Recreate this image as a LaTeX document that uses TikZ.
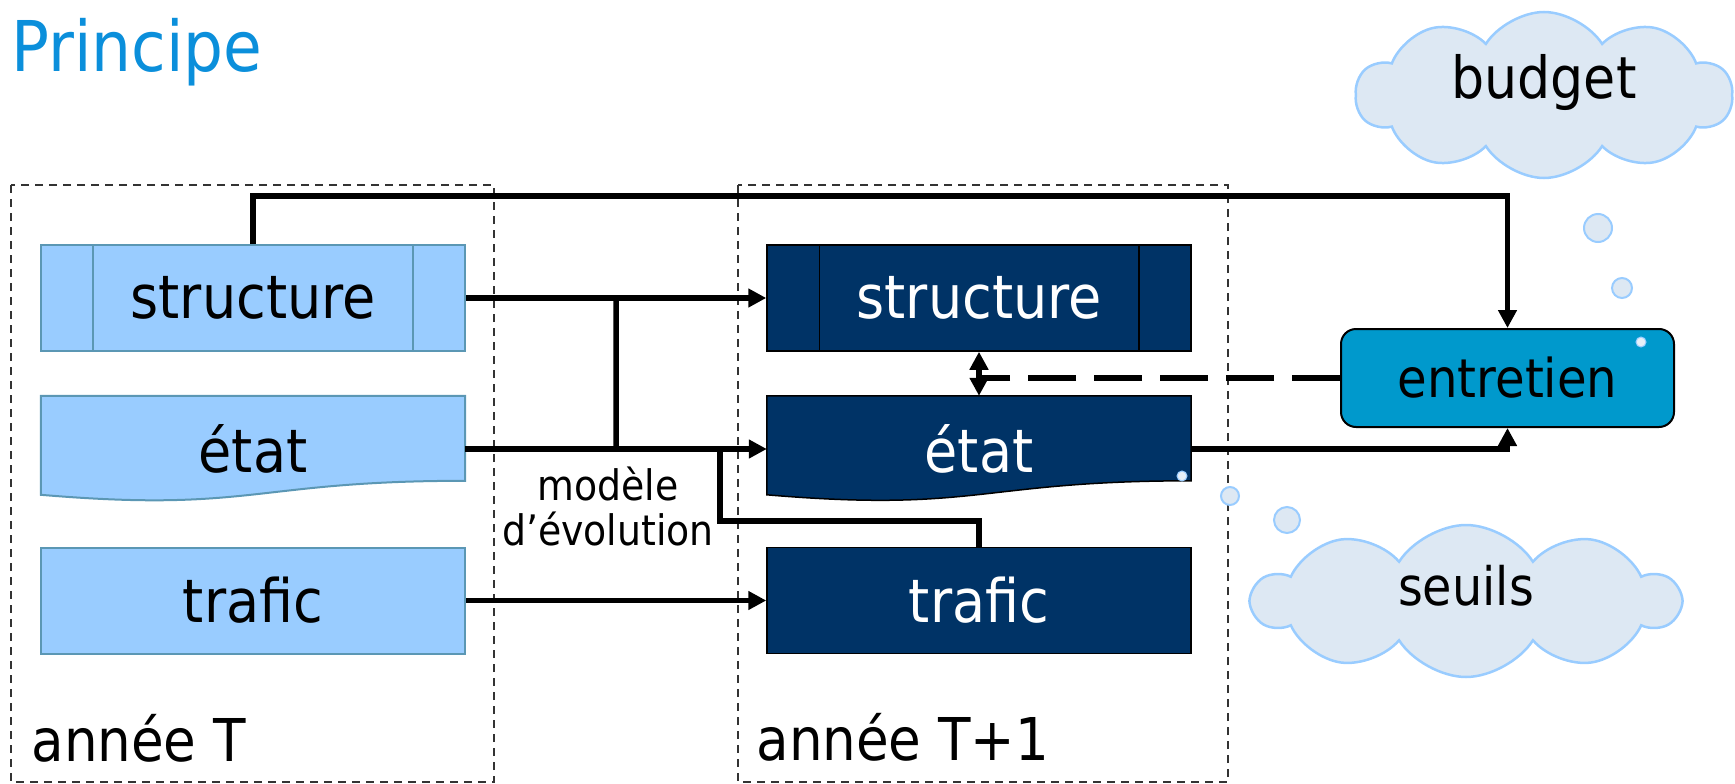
\documentclass[tikz,border=0pt]{standalone}
\usepackage{fontspec}
\setmainfont{DejaVu Sans Condensed}
\usepackage{tikz}
\usetikzlibrary{arrows.meta,calc,shapes.symbols,backgrounds}

\definecolor{clair}{HTML}{99CCFF}
\definecolor{bordclair}{HTML}{5B97B4}
\definecolor{marine}{HTML}{003366}
\definecolor{turquoise}{HTML}{0099CC}
\definecolor{nuagefond}{HTML}{DDE8F3}
\definecolor{nuagebord}{HTML}{99CCFF}
\definecolor{titre}{HTML}{0B8FDB}

\tikzset{
  boite/.style={minimum width=424pt, minimum height=106pt, inner sep=0pt, font=\fontsize{60}{72}\selectfont},
  boiteT/.style={boite, draw=bordclair, line width=2pt, fill=clair},
  boiteTT/.style={boite, draw=black, line width=1.5pt, fill=marine, text=white},
  cadre/.style={draw=black!80, line width=2pt, dash pattern=on 8pt off 6pt},
  trait/.style={line width=5.5pt},
  fleche/.style={trait, -{Triangle[length=18pt,width=18pt]}},
  nuage/.style={cloud, cloud puffs=10, cloud puff arc=115, cloud ignores aspect, draw=nuagebord, fill=nuagefond, line width=2.5pt, inner sep=0pt, text height=42pt, text depth=34pt},
  bulle/.style={circle, draw=nuagebord, fill=nuagefond, line width=2pt, inner sep=0pt},
  point/.style={circle, draw=nuagebord, fill=nuagefond!70!white, line width=1pt, inner sep=0pt, minimum size=10pt}
}

\begin{document}
\begin{tikzpicture}[x=1pt,y=1pt,yscale=-1]

\useasboundingbox (0,0) rectangle (1735,784);

\node[anchor=base west, text=titre, font=\fontsize{70}{82}\selectfont] (titre) at (8,72) {Principe};

% cadres des annees
\draw[cadre] (11,185) rectangle (494,782);
\draw[cadre] (738,185) rectangle (1228,782);
\node[anchor=base west, font=\fontsize{59}{70}\selectfont] (anT) at (28,761) {année T};
\node[anchor=base west, font=\fontsize{59}{70}\selectfont] (anT1) at (753,760) {année T+1};

% annee T
\node[boiteT] (ls) at (253,298) {structure};
\draw[draw=bordclair, line width=2pt] ($(ls.north west)+(53,0)$) -- ($(ls.south west)+(53,0)$);
\draw[draw=bordclair, line width=2pt] ($(ls.north east)+(-53,0)$) -- ($(ls.south east)+(-53,0)$);
\node[boite] (le) at (253,449) {état};
\node[boiteT] (lt) at (253,600.5) {trafic};

% annee T+1
\node[boiteTT] (rs) at (979,298) {structure};
\draw[line width=1.5pt] ($(rs.north west)+(53,0)$) -- ($(rs.south west)+(53,0)$);
\draw[line width=1.5pt] ($(rs.north east)+(-53,0)$) -- ($(rs.south east)+(-53,0)$);
\node[boite, text=white] (re) at (979,449) {état};
\node[boiteTT] (rt) at (979,600.5) {trafic};

\begin{scope}[on background layer]
\filldraw[fill=clair, draw=bordclair, line width=2pt] (le.north west) -- (le.north east) -- ($(le.north east)+(0,85)$)
  .. controls ($(le.north)+(0,85)$) and ($(le.north)+(0,117)$) .. ($(le.north west)+(0,99)$) -- cycle;
\filldraw[fill=marine, draw=black, line width=1.5pt] (re.north west) -- (re.north east) -- ($(re.north east)+(0,85)$)
  .. controls ($(re.north)+(0,85)$) and ($(re.north)+(0,117)$) .. ($(re.north west)+(0,99)$) -- cycle;
\end{scope}

\node[draw=black, line width=2pt, fill=turquoise, rounded corners=15pt, minimum width=333pt, minimum height=98pt, font=\fontsize{53.5}{64}\selectfont] (en) at (1507.5,378) {entretien};

% nuages
\node[nuage, minimum width=376pt, minimum height=166pt, font=\fontsize{58}{70}\selectfont] (bu) at (1544,95) {budget};
\node[nuage, minimum width=426pt, minimum height=152pt, font=\fontsize{53}{64}\selectfont] (se) at (1466,601) {seuils};
\node[bulle, minimum size=28pt] (b1) at (1598,228) {};
\node[bulle, minimum size=20pt] (b2) at (1622,288) {};
\node[bulle, minimum size=18pt] (b3) at (1230,496) {};
\node[bulle, minimum size=26pt] (b4) at (1287,520) {};
\node[point] (p1) at (1641,342) {};
\node[point] (p2) at (1182,476) {};

\node[align=center, font=\fontsize{42}{45}\selectfont] (evo) at (608,506) {modèle\\d’évolution};

% liaisons
\draw[fleche] (ls.north) -- ++(0,-48) -| (en.north);
\draw[fleche] (ls.east) -- (rs.west);
\draw[fleche] (le.east) -- (re.west);
\draw[trait] ($(ls.east)!.5!(rs.west)$) -- ($(le.east)!.5!(re.west)$);
\draw[fleche] (lt.east) -- (rt.west);
\draw[trait] (rt.north) -- ++(0,-26) -| ($(le.east)!.845!(re.west)$);
\draw[trait, {Triangle[length=18pt,width=18pt]}-{Triangle[length=18pt,width=18pt]}] (rs.south) -- (re.north);
\draw[trait, dash pattern=on 48pt off 18pt] (en.west) -- (en.west -| rs.south);
\draw[fleche] (re.east) -| (en.south);

\end{tikzpicture}
\end{document}
